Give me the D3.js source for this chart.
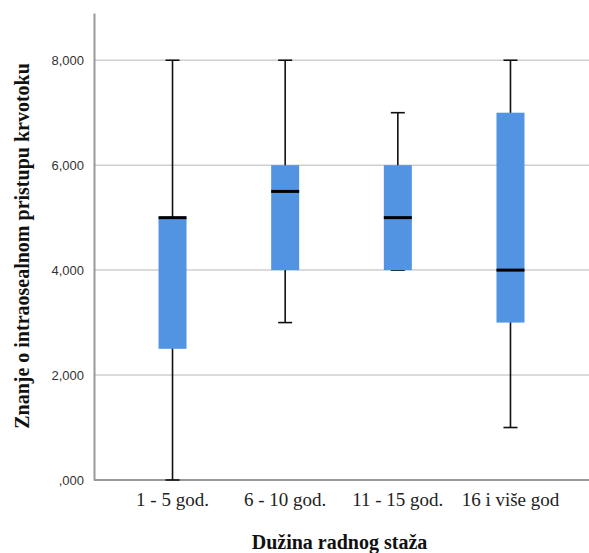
<!DOCTYPE html>
<meta charset="utf-8">
<style>
body { margin: 0; background: #fff; }
.tick text { font-family: "Liberation Sans", Arial, sans-serif; font-size: 13px; fill: #333; }
.cat { font-family: "Liberation Serif", "Times New Roman", serif; font-size: 19px; fill: #222; }
.title { font-family: "Liberation Serif", "Times New Roman", serif; font-size: 20px; font-weight: bold; fill: #111; }
</style>
<svg width="589" height="553"></svg>
<script src="https://d3js.org/d3.v7.min.js"></script>
<script>
var categories = ["1 - 5 god.", "6 - 10 god.", "11 - 15 god.", "16 i više god"];
var mins    = [0, 3, 4, 1];
var q1s     = [2.5, 4, 4, 3];
var medians = [5, 5.5, 5, 4];
var q3s     = [5, 6, 6, 7];
var maxs    = [8, 8, 7, 8];
var yTicks  = [0, 2, 4, 6, 8];

var svg = d3.select("svg"),
    margin = {top: 13, right: 0, bottom: 73, left: 94},
    width = +svg.attr("width") - margin.left - margin.right,
    height = +svg.attr("height") - margin.top - margin.bottom;

var data = categories.map(function(c, i) {
  return {cat: c, min: mins[i], q1: q1s[i], med: medians[i], q3: q3s[i], max: maxs[i]};
});

var x = d3.scalePoint().domain(categories).range([0, width]).padding(0.697),
    y = d3.scaleLinear().domain([0, 8.9]).range([height, 0]);

var g = svg.append("g")
    .attr("transform", "translate(" + margin.left + "," + margin.top + ")");

// gridlines
g.selectAll(".grid")
  .data(yTicks.slice(1))
  .enter().append("line")
    .attr("x1", 0).attr("x2", width)
    .attr("y1", function(d) { return y(d); })
    .attr("y2", function(d) { return y(d); })
    .attr("stroke", "#cfcfcf").attr("stroke-width", 1.5);

var fmt = function(d) { return d === 0 ? ",000" : d + ",000"; };

var yAxis = g.append("g")
    .call(d3.axisLeft(y).tickValues(yTicks).tickFormat(fmt).tickSize(0).tickPadding(10));
yAxis.select(".domain").attr("stroke", "#999").attr("stroke-width", 2);

g.append("line")
    .attr("x1", 0).attr("x2", width)
    .attr("y1", height).attr("y2", height)
    .attr("stroke", "#999").attr("stroke-width", 2);

var boxW = 28, capW = 14;

var box = g.selectAll(".box")
  .data(data)
  .enter().append("g")
    .attr("transform", function(d) { return "translate(" + x(d.cat) + ",0)"; });

box.append("line")
    .attr("y1", function(d) { return y(d.min); })
    .attr("y2", function(d) { return y(d.max); })
    .attr("stroke", "#111").attr("stroke-width", 1.6);

box.append("line")
    .attr("x1", -capW / 2).attr("x2", capW / 2)
    .attr("y1", function(d) { return y(d.max); })
    .attr("y2", function(d) { return y(d.max); })
    .attr("stroke", "#111").attr("stroke-width", 1.6);

box.append("line")
    .attr("x1", -capW / 2).attr("x2", capW / 2)
    .attr("y1", function(d) { return y(d.min); })
    .attr("y2", function(d) { return y(d.min); })
    .attr("stroke", "#111").attr("stroke-width", 1.6);

box.append("rect")
    .attr("x", -boxW / 2).attr("width", boxW)
    .attr("y", function(d) { return y(d.q3); })
    .attr("height", function(d) { return y(d.q1) - y(d.q3); })
    .attr("fill", "#5294e2");

box.append("line")
    .attr("x1", -boxW / 2).attr("x2", boxW / 2)
    .attr("y1", function(d) { return y(d.med); })
    .attr("y2", function(d) { return y(d.med); })
    .attr("stroke", "#000").attr("stroke-width", 3);

g.selectAll(".cat")
  .data(categories)
  .enter().append("text")
    .attr("class", "cat")
    .attr("x", function(d) { return x(d); })
    .attr("y", height + 26)
    .attr("text-anchor", "middle")
    .text(function(d) { return d; });

svg.append("text")
    .attr("class", "title")
    .attr("x", margin.left + width / 2 - 2)
    .attr("y", 549)
    .attr("text-anchor", "middle")
    .text("Dužina radnog staža");

svg.append("text")
    .attr("class", "title")
    .attr("transform", "translate(29," + 246 + ") rotate(-90)")
    .attr("text-anchor", "middle")
    .text("Znanje o intraosealnom pristupu krvotoku");
</script>
